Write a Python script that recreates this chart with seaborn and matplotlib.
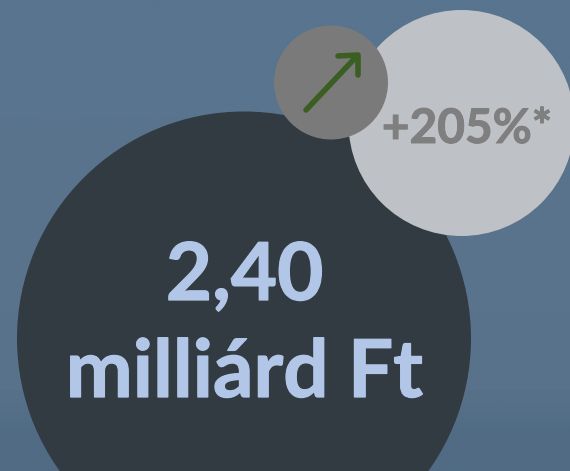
import numpy as np
import pandas as pd
import matplotlib
matplotlib.use("Agg")
import matplotlib.pyplot as plt
import matplotlib.patheffects as pe
import seaborn as sns

# Values shown in the graphic
amount_label = "2,40"
amount_unit = "milliárd Ft"
growth_label = "+205%*"

bubble_names = ["amount", "growth", "arrow"]
bubble_x = [244, 461.5, 331]
bubble_y = [338.5, 123, 82.5]
bubble_radius = [227, 113, 57]
bubble_colors = ["#323a42", "#bec1c6", "#7a7a7a"]

sns.set_theme(style="white")
plt.rcParams["font.family"] = ["Lato", "DejaVu Sans"]

fig = plt.figure(figsize=(5.7, 4.71), dpi=100)
ax = fig.add_axes([0, 0, 1, 1])

# Background: sky and sea
sky = np.array([[88, 116, 143], [90, 116, 142], [90, 115, 141], [91, 116, 141], [89, 114, 139]]) / 255
sea = np.array([[86, 112, 136], [80, 108, 132], [80, 107, 131]]) / 255
ax.imshow(sky[:, None, :], extent=(0, 570, 390, 0), aspect="auto", interpolation="bilinear", zorder=0)
ax.imshow(sea[:, None, :], extent=(0, 570, 471, 390), aspect="auto", interpolation="bilinear", zorder=0)

df = pd.DataFrame({"name": bubble_names, "x": bubble_x, "y": bubble_y, "r": bubble_radius})
df["s"] = (df["r"] * 2 * 72 / 100) ** 2

# amount and growth circles first, arrow circle on top
sns.scatterplot(data=df, x="x", y="y", hue="name", palette=dict(zip(bubble_names, bubble_colors)),
                size="name", sizes=dict(zip(bubble_names, df["s"])), linewidth=0, legend=False,
                clip_on=False, ax=ax, zorder=2)

ax.plot([306, 357], [110, 56], color="#3b5f22", lw=4, solid_capstyle="round", zorder=3)
ax.plot([338, 358, 358], [56, 55, 75], color="#3b5f22", lw=4, solid_capstyle="round",
        solid_joinstyle="round", zorder=3)

# thin stroke because the original lettering renders a bit heavier than Lato Bold here
big_stroke = [pe.withStroke(linewidth=0.9, foreground="#b2c7e8")]
small_stroke = [pe.withStroke(linewidth=0.7, foreground="#7f7f7f")]
ax.text(244.5, 300, amount_label, color="#b2c7e8", fontsize=57.5, fontweight="bold", ha="center",
        va="baseline", zorder=4, path_effects=big_stroke)
ax.text(244.5, 397, amount_unit, color="#b2c7e8", fontsize=57.5, fontweight="bold", ha="center",
        va="baseline", zorder=4, path_effects=big_stroke)
ax.text(467, 143, growth_label, color="#7f7f7f", fontsize=34.4, fontweight="bold", ha="center",
        va="baseline", zorder=4, path_effects=small_stroke)

ax.set_xlim(0, 570)
ax.set_ylim(471, 0)
ax.set_axis_off()

fig.savefig("out.png", dpi=100)
